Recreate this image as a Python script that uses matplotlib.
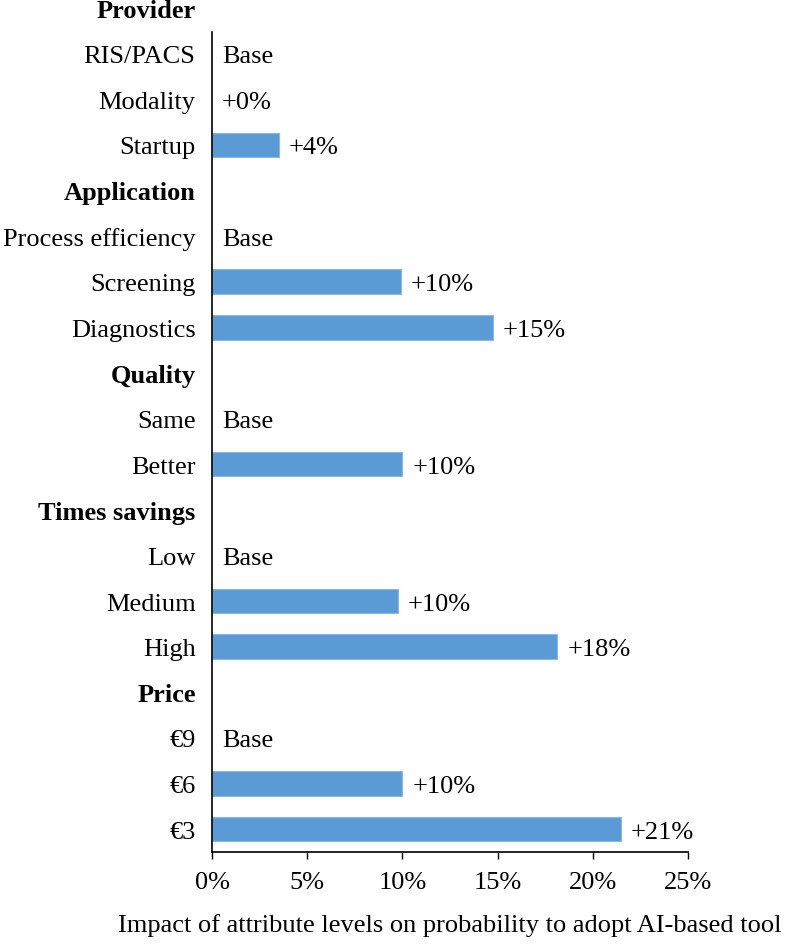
import matplotlib.pyplot as plt
from matplotlib.ticker import FuncFormatter

# rows top to bottom; headers have no value
labels = ["Provider", "RIS/PACS", "Modality", "Startup",
          "Application", "Process efficiency", "Screening", "Diagnostics",
          "Quality", "Same", "Better",
          "Times savings", "Low", "Medium", "High",
          "Price", "€9", "€6", "€3"]
headers = ["Provider", "Application", "Quality", "Times savings", "Price"]
# None = header, "Base" = reference level
values = [None, "Base", 0.0, 3.5,
          None, "Base", 9.9, 14.75,
          None, "Base", 10.0,
          None, "Base", 9.75, 18.15,
          None, "Base", 10.0, 21.5]
value_text = [None, "Base", "+0%", "+4%",
              None, "Base", "+10%", "+15%",
              None, "Base", "+10%",
              None, "Base", "+10%", "+18%",
              None, "Base", "+10%", "+21%"]

plt.rcParams['font.family'] = ['Liberation Serif', 'DejaVu Serif']

fig = plt.figure(figsize=(7.86, 9.45), dpi=100)
ax = fig.add_axes([0.270, 0.0974, 0.605, 0.868])

fs = 19
for i, (lab, v, t) in enumerate(zip(labels, values, value_text)):
    bold = lab in headers
    ax.text(-0.035, i, lab, transform=ax.get_yaxis_transform(), ha='right', va='center_baseline',
            fontsize=fs, fontweight='bold' if bold else 'normal', clip_on=False)
    if v is None:
        continue
    if v == "Base" or v == 0:
        ax.annotate(t, (0, i), xytext=(7, 0), textcoords='offset points',
                    ha='left', va='center_baseline', fontsize=fs)
    else:
        ax.barh(i, v, height=0.54, color='#5b9bd5', edgecolor='#8ab8e6', linewidth=0.8)
        ax.annotate(t, (v, i), xytext=(7, 0), textcoords='offset points',
                    ha='left', va='center_baseline', fontsize=fs)

ax.set_ylim(18.5, 0.52)
ax.set_xlim(0, 25)
ax.set_xticks([0, 5, 10, 15, 20, 25])
ax.xaxis.set_major_formatter(FuncFormatter(lambda x, p: f"{x:.0f}%"))
ax.tick_params(axis='x', labelsize=fs, length=5, width=1, pad=9)
ax.set_yticks([])
for s in ['top', 'right']:
    ax.spines[s].set_visible(False)
ax.spines['left'].set_linewidth(1.2)
ax.spines['bottom'].set_linewidth(1.2)
ax.set_xlabel("Impact of attribute levels on probability to adopt AI-based tool", fontsize=19, labelpad=14)

fig.savefig("out.png", dpi=100)
